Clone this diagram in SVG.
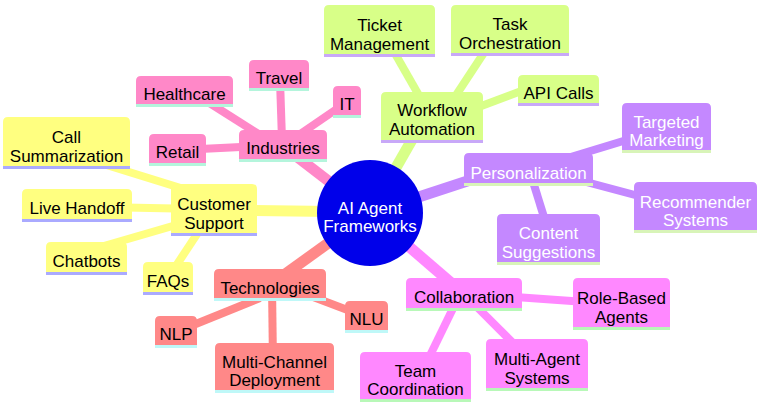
<svg xmlns="http://www.w3.org/2000/svg" width="763" height="406" viewBox="0 0 763 406">
<style>
text{font-family:"Liberation Sans",Arial,sans-serif;font-size:17px;text-anchor:middle;fill:#000}
.e{fill:none;stroke-linecap:butt}
.d1{stroke-width:11}
.d2{stroke-width:8}
.ey{stroke:#ffff80}.ep{stroke:#ff88c8}.eg{stroke:#d8ff88}.eu{stroke:#c488ff}.em{stroke:#ff88ff}.er{stroke:#ff8888}
.ny path{fill:#ffff80}.ny line{stroke:#aaaaff}
.np path{fill:#ff88c8}.np line{stroke:#b4f5dc}
.ng path{fill:#d8ff88}.ng line{stroke:#c8a8f8}
.nu path{fill:#c488ff}.nu line{stroke:#d8f4b8}.nu text{fill:#fff}
.nm path{fill:#ff88ff}.nm line{stroke:#b8f8b8}
.nr path{fill:#ff8888}.nr line{stroke:#bff8f8}
line{stroke-width:3}
</style>
<g id="connectors">
<path class="e d1 ey" d="M370,212 L214,210"/>
<path class="e d1 ep" d="M370,213 L283,146"/>
<path class="e d1 eg" d="M370,213 L425,117"/>
<path class="e d1 eu" d="M370,213 L528,161"/>
<path class="e d1 em" d="M370,213 L464,294"/>
<path class="e d1 er" d="M370,213 L270,285"/>
<path class="e d2 ey" d="M100,163 L200,194"/>
<path class="e d2 ey" d="M100,207 L200,209"/>
<path class="e d2 ey" d="M90,250 L214,214"/>
<path class="e d2 ey" d="M168,278 L205,222"/>
<path class="e d2 ep" d="M200,97 L260,135"/>
<path class="e d2 ep" d="M280,80 L282,140"/>
<path class="e d2 ep" d="M347,102 L290,141"/>
<path class="e d2 ep" d="M180,150 L260,146"/>
<path class="e d2 eg" d="M385,36 L425,106"/>
<path class="e d2 eg" d="M495,36 L445,112"/>
<path class="e d2 eg" d="M460,114 L540,84"/>
<path class="e d2 eu" d="M528,170 L666,128"/>
<path class="e d2 eu" d="M560,175 L680,207"/>
<path class="e d2 eu" d="M530,172 L548,230"/>
<path class="e d2 em" d="M500,296 L600,303"/>
<path class="e d2 em" d="M470,300 L520,350"/>
<path class="e d2 em" d="M460,294 L420,376"/>
<path class="e d2 er" d="M176,332 L260,298"/>
<path class="e d2 er" d="M272,285 L273,365"/>
<path class="e d2 er" d="M300,292 L366,317"/>
</g>
<g id="root">
<circle cx="370" cy="213" r="53" fill="#0000ea"/>
<text x="370" y="214" style="fill:#fff">AI Agent</text>
<text x="370" y="232" style="fill:#fff">Frameworks</text>
</g>
<g id="customer-support" class="ny"><path d="M171,234.5V189Q171,184 176,184H252Q257,184 257,189V234.5Z"/><line x1="171" y1="234.5" x2="257" y2="234.5"/><text x="214" y="210">Customer</text><text x="214" y="229">Support</text></g>
<g id="call-summarization" class="ny"><path d="M3,167.5V122Q3,117 8,117H125Q130,117 130,122V167.5Z"/><line x1="3" y1="167.5" x2="130" y2="167.5"/><text x="66.5" y="143">Call</text><text x="66.5" y="162">Summarization</text></g>
<g id="live-handoff" class="ny"><path d="M22,220.5V194Q22,189 27,189H127Q132,189 132,194V220.5Z"/><line x1="22" y1="220.5" x2="132" y2="220.5"/><text x="77" y="214">Live Handoff</text></g>
<g id="chatbots" class="ny"><path d="M46,273.5V247Q46,242 51,242H122Q127,242 127,247V273.5Z"/><line x1="46" y1="273.5" x2="127" y2="273.5"/><text x="86.5" y="267">Chatbots</text></g>
<g id="faqs" class="ny"><path d="M143,293.5V267Q143,262 148,262H188Q193,262 193,267V293.5Z"/><line x1="143" y1="293.5" x2="193" y2="293.5"/><text x="168" y="287">FAQs</text></g>
<g id="industries" class="np"><path d="M239,160.5V135Q239,130 244,130H322Q327,130 327,135V160.5Z"/><line x1="239" y1="160.5" x2="327" y2="160.5"/><text x="283" y="154">Industries</text></g>
<g id="healthcare" class="np"><path d="M136,105.5V81Q136,76 141,76H228Q233,76 233,81V105.5Z"/><line x1="136" y1="105.5" x2="233" y2="105.5"/><text x="184.5" y="100">Healthcare</text></g>
<g id="travel" class="np"><path d="M249,89.5V65Q249,60 254,60H304Q309,60 309,65V89.5Z"/><line x1="249" y1="89.5" x2="309" y2="89.5"/><text x="279" y="84">Travel</text></g>
<g id="it" class="np"><path d="M333,116.5V91Q333,86 338,86H356Q361,86 361,91V116.5Z"/><line x1="333" y1="116.5" x2="361" y2="116.5"/><text x="347" y="110">IT</text></g>
<g id="retail" class="np"><path d="M149,164.5V139Q149,134 154,134H201Q206,134 206,139V164.5Z"/><line x1="149" y1="164.5" x2="206" y2="164.5"/><text x="177.5" y="158">Retail</text></g>
<g id="workflow-automation" class="ng"><path d="M381,141.5V97Q381,92 386,92H478Q483,92 483,97V141.5Z"/><line x1="381" y1="141.5" x2="483" y2="141.5"/><text x="432" y="116">Workflow</text><text x="432" y="135">Automation</text></g>
<g id="ticket-management" class="ng"><path d="M324,55.5V10Q324,5 329,5H430Q435,5 435,10V55.5Z"/><line x1="324" y1="55.5" x2="435" y2="55.5"/><text x="379.5" y="31">Ticket</text><text x="379.5" y="50">Management</text></g>
<g id="task-orchestration" class="ng"><path d="M451,54.5V10Q451,5 456,5H564Q569,5 569,10V54.5Z"/><line x1="451" y1="54.5" x2="569" y2="54.5"/><text x="510" y="30">Task</text><text x="510" y="49">Orchestration</text></g>
<g id="api-calls" class="ng"><path d="M518,104.5V80Q518,75 523,75H594Q599,75 599,80V104.5Z"/><line x1="518" y1="104.5" x2="599" y2="104.5"/><text x="558.5" y="99">API Calls</text></g>
<g id="personalization" class="nu"><path d="M464,184.5V158Q464,153 469,153H588Q593,153 593,158V184.5Z"/><line x1="464" y1="184.5" x2="593" y2="184.5"/><text x="528.5" y="179">Personalization</text></g>
<g id="targeted-marketing" class="nu"><path d="M622,151.5V108Q622,103 627,103H706Q711,103 711,108V151.5Z"/><line x1="622" y1="151.5" x2="711" y2="151.5"/><text x="666.5" y="128">Targeted</text><text x="666.5" y="146">Marketing</text></g>
<g id="recommender-systems" class="nu"><path d="M634,231.5V187Q634,182 639,182H752Q757,182 757,187V231.5Z"/><line x1="634" y1="231.5" x2="757" y2="231.5"/><text x="695.5" y="208">Recommender</text><text x="695.5" y="226">Systems</text></g>
<g id="content-suggestions" class="nu"><path d="M497,263.5V219Q497,214 502,214H595Q600,214 600,219V263.5Z"/><line x1="497" y1="263.5" x2="600" y2="263.5"/><text x="548.5" y="239">Content</text><text x="548.5" y="258">Suggestions</text></g>
<g id="collaboration" class="nm"><path d="M406,309.5V283Q406,278 411,278H517Q522,278 522,283V309.5Z"/><line x1="406" y1="309.5" x2="522" y2="309.5"/><text x="464" y="303">Collaboration</text></g>
<g id="role-based-agents" class="nm"><path d="M573,328.5V283Q573,278 578,278H665Q670,278 670,283V328.5Z"/><line x1="573" y1="328.5" x2="670" y2="328.5"/><text x="621.5" y="304">Role-Based</text><text x="621.5" y="323">Agents</text></g>
<g id="multi-agent-systems" class="nm"><path d="M486,389.5V344Q486,339 491,339H583Q588,339 588,344V389.5Z"/><line x1="486" y1="389.5" x2="588" y2="389.5"/><text x="537" y="365">Multi-Agent</text><text x="537" y="384">Systems</text></g>
<g id="team-coordination" class="nm"><path d="M360,400.5V357Q360,352 365,352H466Q471,352 471,357V400.5Z"/><line x1="360" y1="400.5" x2="471" y2="400.5"/><text x="415.5" y="377">Team</text><text x="415.5" y="395">Coordination</text></g>
<g id="technologies" class="nr"><path d="M214,299.5V274Q214,269 219,269H321Q326,269 326,274V299.5Z"/><line x1="214" y1="299.5" x2="326" y2="299.5"/><text x="270" y="294">Technologies</text></g>
<g id="nlp" class="nr"><path d="M155,346.5V321Q155,316 160,316H192Q197,316 197,321V346.5Z"/><line x1="155" y1="346.5" x2="197" y2="346.5"/><text x="176" y="340">NLP</text></g>
<g id="nlu" class="nr"><path d="M345,331.5V306Q345,301 350,301H383Q388,301 388,306V331.5Z"/><line x1="345" y1="331.5" x2="388" y2="331.5"/><text x="366.5" y="325">NLU</text></g>
<g id="multi-channel-deployment" class="nr"><path d="M215,391.5V348Q215,343 220,343H329Q334,343 334,348V391.5Z"/><line x1="215" y1="391.5" x2="334" y2="391.5"/><text x="274.5" y="368">Multi-Channel</text><text x="274.5" y="386">Deployment</text></g>
</svg>
